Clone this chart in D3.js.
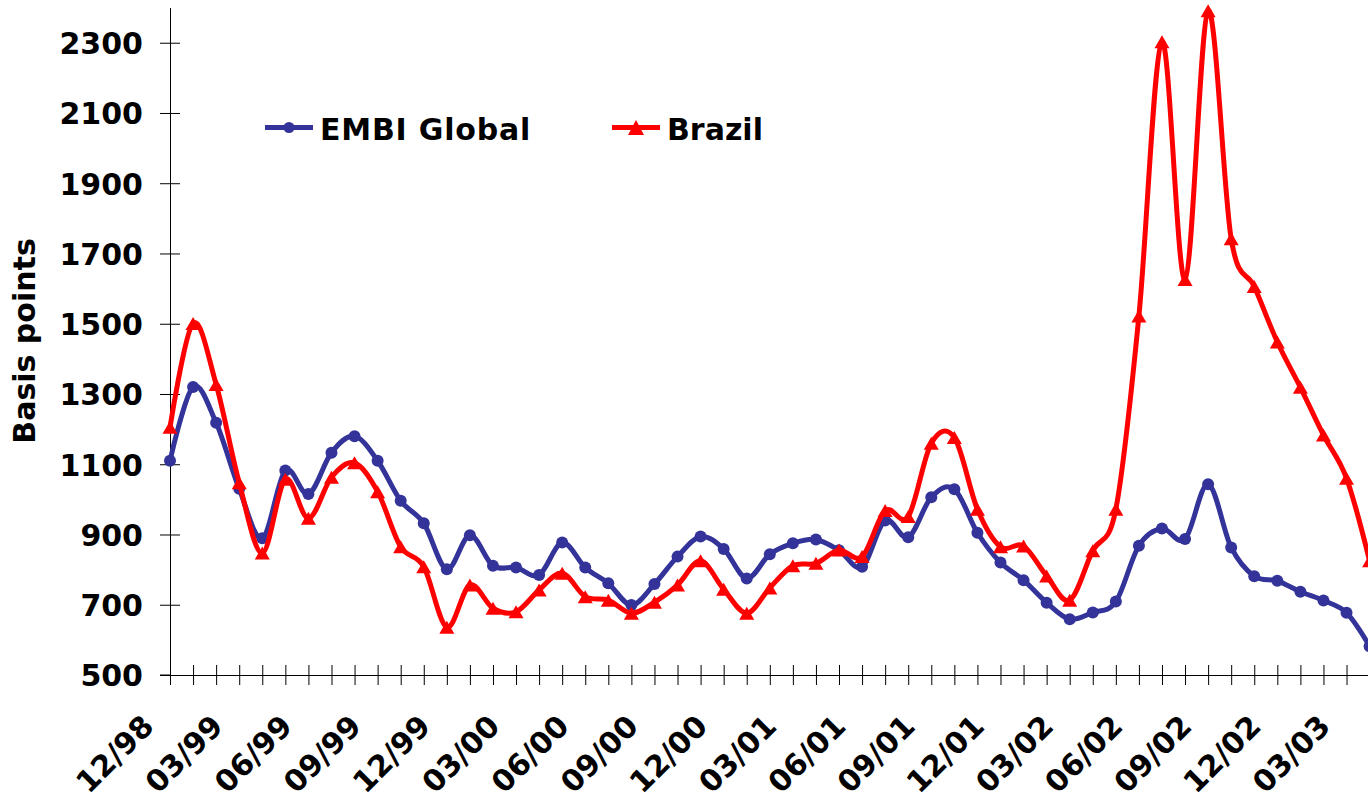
<!DOCTYPE html>
<html>
<head>
<meta charset="utf-8">
<script src="https://cdn.jsdelivr.net/npm/d3@7"></script>
<style>
  html, body { margin: 0; padding: 0; background: #ffffff; }
  svg { display: block; }
  text { font-family: "DejaVu Sans", Verdana, sans-serif; font-weight: bold; fill: #000; }
</style>
</head>
<body>
<svg id="chart" width="1368" height="803"></svg>
<script>
const months = ["12/98","01/99","02/99","03/99","04/99","05/99","06/99","07/99","08/99","09/99","10/99","11/99",
  "12/99","01/00","02/00","03/00","04/00","05/00","06/00","07/00","08/00","09/00","10/00","11/00",
  "12/00","01/01","02/01","03/01","04/01","05/01","06/01","07/01","08/01","09/01","10/01","11/01",
  "12/01","01/02","02/02","03/02","04/02","05/02","06/02","07/02","08/02","09/02","10/02","11/02",
  "12/02","01/03","02/03","03/03","04/03"];
const embiGlobal = [1110,1320,1218,1030,889,1082,1015,1133,1180,1110,996,932,
  801,898,811,806,785,877,806,761,699,759,837,894,
  859,775,844,875,886,855,808,940,892,1006,1029,905,
  820,770,706,659,678,709,868,917,887,1043,863,781,
  768,737,712,677,582];
const brazil = [1205,1501,1327,1047,847,1057,946,1063,1104,1022,865,808,
  636,756,690,680,742,790,723,713,676,707,756,825,
  744,676,748,811,818,856,837,968,951,1160,1176,972,
  865,867,782,713,854,972,1522,2303,1626,2391,1742,1606,
  1448,1319,1183,1060,825];
const yTicks = [500,700,900,1100,1300,1500,1700,1900,2100,2300];
const xLabels = ["12/98","03/99","06/99","09/99","12/99","03/00","06/00","09/00","12/00","03/01","06/01","09/01","12/01","03/02","06/02","09/02","12/02","03/03"];
const seriesNames = ["EMBI Global","Brazil"];
const yTitle = "Basis points";

const svg = d3.select("#chart");
const blue = "#333399", red = "#ff0000";

const x = d3.scalePoint().domain(months).range([170, 1369.6]);
const y = d3.scaleLinear().domain([500, 2400]).range([675, 7.6]);

// Y axis
const yAxis = svg.append("g").attr("transform", "translate(170,0)")
  .call(d3.axisLeft(y).tickValues(yTicks).tickFormat(d3.format("d"))
    .tickSize(10).tickSizeOuter(0).tickPadding(17));
yAxis.select(".domain").attr("stroke", "#000").attr("stroke-width", 1);
yAxis.selectAll(".tick line").attr("x1", 10).attr("stroke", "#000");
yAxis.selectAll(".tick text")
  .style("font-family", "'DejaVu Sans', Verdana, sans-serif")
  .style("font-weight", "bold").style("font-size", "30px")
  .attr("dy", "0.36em").attr("fill", "#000");

// X axis
const xAxis = svg.append("g").attr("transform", "translate(0,675)")
  .call(d3.axisBottom(x).tickSize(10).tickSizeOuter(0)
    .tickFormat(d => xLabels.includes(d) ? d : ""));
xAxis.select(".domain").attr("stroke", "#000").attr("stroke-width", 1);
xAxis.selectAll(".tick line").attr("y1", -10).attr("stroke", "#000");
xAxis.selectAll(".tick text")
  .style("font-family", "'DejaVu Sans', Verdana, sans-serif")
  .style("font-weight", "bold").style("font-size", "30px")
  .attr("text-anchor", "end")
  .attr("y", 0).attr("dy", 0)
  .attr("transform", "translate(-15,53) rotate(-45)")
  .attr("fill", "#000");

// extend x axis line to the left like the reference
svg.append("line").attr("x1", 160).attr("x2", 170).attr("y1", 675).attr("y2", 675).attr("stroke", "#000");

// Y title
svg.append("text")
  .attr("transform", "translate(35,341) rotate(-90)")
  .attr("text-anchor", "middle")
  .style("font-size", "30px")
  .text(yTitle);

const line = d3.line().x((d, i) => x(months[i])).y(d => y(d)).curve(d3.curveCardinal.tension(0));

function tri(w, h) { return `M0,${-h/2}L${w/2},${h/2}L${-w/2},${h/2}Z`; }

// EMBI
svg.append("path").datum(embiGlobal).attr("d", line)
  .attr("fill", "none").attr("stroke", blue).attr("stroke-width", 5).attr("stroke-linejoin", "round");
svg.append("g").selectAll("circle").data(embiGlobal).join("circle")
  .attr("cx", (d, i) => x(months[i])).attr("cy", d => y(d)).attr("r", 6).attr("fill", blue);

// Brazil
svg.append("path").datum(brazil).attr("d", line)
  .attr("fill", "none").attr("stroke", red).attr("stroke-width", 5).attr("stroke-linejoin", "round");
svg.append("g").selectAll("path").data(brazil).join("path")
  .attr("d", tri(15, 13))
  .attr("transform", (d, i) => `translate(${x(months[i])},${y(d)})`).attr("fill", red);

// Legend
const leg = svg.append("g");
leg.append("line").attr("x1", 265).attr("x2", 313).attr("y1", 127.5).attr("y2", 127.5).attr("stroke", blue).attr("stroke-width", 5);
leg.append("circle").attr("cx", 289).attr("cy", 127.5).attr("r", 5.5).attr("fill", blue);
leg.append("text").attr("x", 320).attr("y", 140).style("font-size", "30px").style("letter-spacing", "0.8px").text(seriesNames[0]);
leg.append("line").attr("x1", 612).attr("x2", 660).attr("y1", 127.5).attr("y2", 127.5).attr("stroke", red).attr("stroke-width", 5);
leg.append("path").attr("d", tri(16, 15)).attr("transform", "translate(636,127.5)").attr("fill", red);
leg.append("text").attr("x", 667).attr("y", 140).style("font-size", "30px").text(seriesNames[1]);
</script>
</body>
</html>
